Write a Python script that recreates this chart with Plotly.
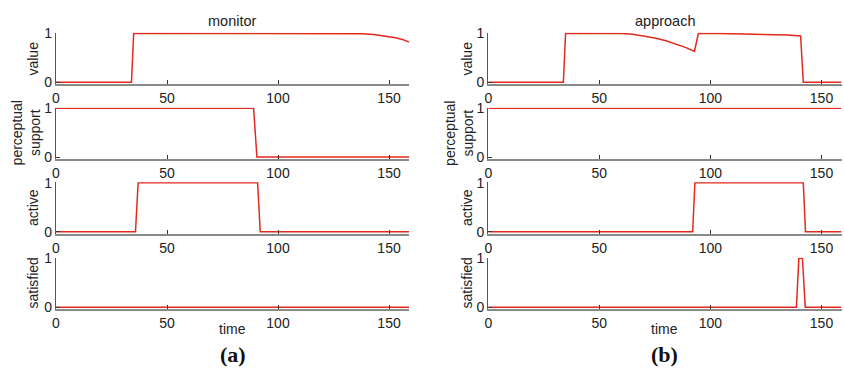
import plotly.graph_objects as go

# ---------------- data ----------------
# (a) monitor
mon_value_t = [0, 34, 35, 137.5, 138, 143, 148, 153, 156, 159]
mon_value_v = [0, 0, 1, 1, 0.99, 0.975, 0.95, 0.91, 0.875, 0.82]
mon_percep_t = [0, 89, 90.5, 159]
mon_percep_v = [1, 1, 0, 0]
mon_active_t = [0, 35.8, 37, 90.8, 92, 159]
mon_active_v = [0, 0, 1, 1, 0, 0]
mon_satis_t = [0, 159]
mon_satis_v = [0, 0]

# (b) approach
app_value_t = [0, 33.8, 34.8, 55, 60, 65, 70, 75, 80, 85, 89, 92.8, 94.6,
               105, 115, 128, 135, 140.6, 141.8, 159]
app_value_v = [0, 0, 1, 1, 0.995, 0.979, 0.95, 0.906, 0.849, 0.776, 0.707, 0.63, 1,
               0.997, 0.99, 0.978, 0.965, 0.945, 0, 0]
app_percep_t = [0, 159]
app_percep_v = [1, 1]
app_active_t = [0, 92, 93, 141.8, 142.8, 159]
app_active_v = [0, 0, 1, 1, 0, 0]
app_satis_t = [0, 138.7, 139.8, 141.4, 142.7, 159]
app_satis_v = [0, 0, 1, 1, 0, 0]

row_labels = ["value", "perceptual<br>support", "active", "satisfied"]
panel_titles = ["monitor", "approach"]
panel_tags = ["(a)", "(b)"]
x_ticks = [0, 50, 100, 150]
y_ticks = [0, 1]

series = [
    [(mon_value_t, mon_value_v), (mon_percep_t, mon_percep_v),
     (mon_active_t, mon_active_v), (mon_satis_t, mon_satis_v)],
    [(app_value_t, app_value_v), (app_percep_t, app_percep_v),
     (app_active_t, app_active_v), (app_satis_t, app_satis_v)],
]

# ---------------- layout geometry (pixels) ----------------
W, H = 844, 373
col_px = [(56, 409), (488.3, 841.5)]
row_px = [(32.8, 84.3), (107.8, 159.0), (182.2, 233.7), (257.8, 309.3)]
label_x_px = [[33, 26, 33, 33], [467, 459.5, 467, 467]]
RED = "#e2291b"
FONT = "Liberation Sans, Arial, sans-serif"

fig = go.Figure()
layout = dict(width=W, height=H, template="none",
              margin=dict(l=0, r=0, t=0, b=0, pad=0, autoexpand=False),
              paper_bgcolor="white", plot_bgcolor="white", showlegend=False)
annotations = []

n = 0
for c in range(2):
    for r in range(4):
        n += 1
        xa = "xaxis" if n == 1 else f"xaxis{n}"
        ya = "yaxis" if n == 1 else f"yaxis{n}"
        xr = "x" if n == 1 else f"x{n}"
        yr = "y" if n == 1 else f"y{n}"
        t, v = series[c][r]
        fig.add_trace(go.Scatter(x=t, y=v, mode="lines", xaxis=xr, yaxis=yr,
                                 line=dict(color=RED, width=1.5), hoverinfo="skip"))
        x0, x1 = col_px[c]
        y0, y1 = row_px[r]
        layout[xa] = dict(domain=[x0 / W, x1 / W], range=[0, 159], anchor=yr,
                          automargin=False,
                          tickvals=x_ticks, ticks="inside", ticklen=4,
                          tickcolor="#333", showline=True, linecolor="#8a8a8a",
                          linewidth=2, showgrid=False, zeroline=False,
                          tickfont=dict(family=FONT, size=14, color="#222"))
        layout[ya] = dict(domain=[1 - y1 / H, 1 - y0 / H], range=[-0.04, 1.01],
                          anchor=xr, automargin=False,
                          tickvals=y_ticks, ticks="inside", ticklen=4,
                          tickcolor="#333", showline=True, linecolor="#555",
                          linewidth=1.3, showgrid=False, zeroline=False,
                          tickfont=dict(family=FONT, size=14, color="#222"))
        annotations.append(dict(text=row_labels[r], textangle=-90, xref="paper",
                                yref="paper", x=label_x_px[c][r] / W,
                                y=1 - (y0 + y1) / 2 / H, showarrow=False,
                                font=dict(family=FONT, size=14, color="#222"),
                                xanchor="center", yanchor="middle"))
    cx = (col_px[c][0] + col_px[c][1]) / 2
    annotations.append(dict(text=panel_titles[c], xref="paper", yref="paper",
                            x=cx / W, y=1 - 21 / H, showarrow=False,
                            font=dict(family=FONT, size=14.5, color="#222"),
                            xanchor="center", yanchor="middle"))
    annotations.append(dict(text="time", xref="paper", yref="paper",
                            x=cx / W, y=1 - 329 / H, showarrow=False,
                            font=dict(family=FONT, size=14, color="#222"),
                            xanchor="center", yanchor="middle"))
    annotations.append(dict(text="<b>" + panel_tags[c] + "</b>", xref="paper",
                            yref="paper", x=cx / W, y=1 - 354 / H, showarrow=False,
                            font=dict(family="Liberation Serif, Times New Roman, serif",
                                      size=22, color="#111"),
                            xanchor="center", yanchor="middle"))

layout["annotations"] = annotations
fig.update_layout(**layout)
fig.write_html("out.html",
               post_script="document.body.style.margin='0';document.body.style.overflow='hidden';")
